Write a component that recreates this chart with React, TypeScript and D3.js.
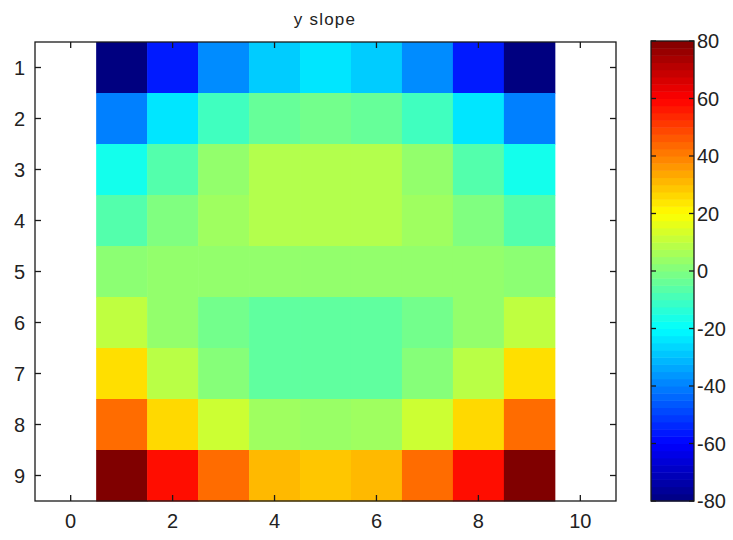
import React, { useEffect, useRef } from "react";
import * as d3 from "d3";

// y slope matrix, rows 1..9 (top to bottom), columns 1..9
const row1 = [-80, -56, -38, -28, -24, -28, -38, -56, -80];
const row2 = [-40, -24, -10, -4, -2, -4, -10, -24, -40];
const row3 = [-17, -7, 3, 8, 8, 8, 3, -7, -17];
const row4 = [-7, 0, 5, 8, 8, 8, 5, 0, -7];
const row5 = [2, 3, 3, 3, 3, 3, 3, 3, 2];
const row6 = [10, 3, -2, -5, -5, -5, -2, 3, 10];
const row7 = [25, 9, 1, -5, -5, -5, 1, 9, 25];
const row8 = [43, 26, 12, 5, 4, 5, 12, 26, 43];
const row9 = [80, 58, 43, 31, 29, 31, 43, 58, 80];
const ySlope = [row1, row2, row3, row4, row5, row6, row7, row8, row9];

const xTicks = [0, 2, 4, 6, 8, 10];
const yTicks = [1, 2, 3, 4, 5, 6, 7, 8, 9];
const cbarTicks = [80, 60, 40, 20, 0, -20, -40, -60, -80];

const W = 733;
const H = 540;
const FONT = "'Liberation Sans', Arial, sans-serif";
const AXIS = "#1a1a1a";

// MATLAB-style jet colormap over [-80, 80]
const jet = d3
  .scaleLinear<string>()
  .domain([-80, -60, -20, 20, 60, 80])
  .range(["#000080", "#0000ff", "#00ffff", "#ffff00", "#ff0000", "#800000"])
  .clamp(true);

const App = () => {
  const ref = useRef<SVGSVGElement>(null);

  useEffect(() => {
    const svg = d3.select(ref.current);
    svg.selectAll("*").remove();

    const x = d3.scaleLinear().domain([-0.7, 10.7]).range([35, 616]);
    const y = d3.scaleLinear().domain([0.5, 9.5]).range([42, 501]);

    svg.append("rect").attr("width", W).attr("height", H).attr("fill", "#fff");

    // heatmap cells
    const cells = ySlope.flatMap((row, i) => row.map((v, j) => ({ r: i + 1, c: j + 1, v })));
    svg
      .append("g")
      .selectAll("rect")
      .data(cells)
      .join("rect")
      .attr("x", (d) => x(d.c - 0.5))
      .attr("y", (d) => y(d.r - 0.5))
      .attr("width", x(1) - x(0) + 0.5)
      .attr("height", y(1) - y(0) + 0.5)
      .attr("fill", (d) => jet(d.v));

    // axes box + ticks
    const [x0, x1] = x.range();
    const [y0, y1] = y.range();
    const axes = svg.append("g").attr("stroke", AXIS).attr("stroke-width", 1.3);
    axes
      .append("rect")
      .attr("x", x0)
      .attr("y", y0)
      .attr("width", x1 - x0)
      .attr("height", y1 - y0)
      .attr("fill", "none");
    const tl = 6;
    xTicks.forEach((t) => {
      axes.append("line").attr("x1", x(t)).attr("x2", x(t)).attr("y1", y1).attr("y2", y1 - tl);
      axes.append("line").attr("x1", x(t)).attr("x2", x(t)).attr("y1", y0).attr("y2", y0 + tl);
    });
    yTicks.forEach((t) => {
      axes.append("line").attr("x1", x0).attr("x2", x0 + tl).attr("y1", y(t)).attr("y2", y(t));
      axes.append("line").attr("x1", x1).attr("x2", x1 - tl).attr("y1", y(t)).attr("y2", y(t));
    });

    const labels = svg.append("g").attr("font-family", FONT).attr("font-size", 20).attr("fill", "#222");
    labels
      .selectAll("text.xt")
      .data(xTicks)
      .join("text")
      .attr("x", (d) => x(d))
      .attr("y", 528)
      .attr("text-anchor", "middle")
      .text((d) => d);
    labels
      .selectAll("text.yt")
      .data(yTicks)
      .join("text")
      .attr("x", 25)
      .attr("y", (d) => y(d))
      .attr("dy", "0.36em")
      .attr("text-anchor", "end")
      .text((d) => d);

    // title
    svg
      .append("text")
      .attr("x", 325)
      .attr("y", 25)
      .attr("text-anchor", "middle")
      .attr("font-family", FONT)
      .attr("font-size", 17)
      .attr("letter-spacing", 1.2)
      .attr("fill", "#222")
      .text("y slope");

    // colorbar
    const cb = d3.scaleLinear().domain([-80, 80]).range([501, 41]);
    const cx0 = 651;
    const cx1 = 694;
    const steps = d3.range(64).map((k) => -80 + (k * 160) / 64);
    svg
      .append("g")
      .selectAll("rect")
      .data(steps)
      .join("rect")
      .attr("x", cx0)
      .attr("y", (d) => cb(d + 160 / 64))
      .attr("width", cx1 - cx0)
      .attr("height", cb(0) - cb(160 / 64) + 0.5)
      .attr("fill", (d) => jet(d + 80 / 64));
    const cbAxis = svg.append("g").attr("stroke", AXIS).attr("stroke-width", 1.3);
    cbAxis
      .append("rect")
      .attr("x", cx0)
      .attr("y", cb(80))
      .attr("width", cx1 - cx0)
      .attr("height", cb(-80) - cb(80))
      .attr("fill", "none");
    cbarTicks.forEach((t) => {
      cbAxis.append("line").attr("x1", cx0).attr("x2", cx0 + 5).attr("y1", cb(t)).attr("y2", cb(t));
      cbAxis.append("line").attr("x1", cx1).attr("x2", cx1 - 5).attr("y1", cb(t)).attr("y2", cb(t));
    });
    labels
      .selectAll("text.ct")
      .data(cbarTicks)
      .join("text")
      .attr("x", 697)
      .attr("y", (d) => cb(d))
      .attr("dy", "0.36em")
      .attr("text-anchor", "start")
      .text((d) => d);
  }, []);

  return (
    <div style={{ position: "absolute", left: 0, top: 0 }}>
      <svg ref={ref} width={W} height={H} />
    </div>
  );
};

export default App;
